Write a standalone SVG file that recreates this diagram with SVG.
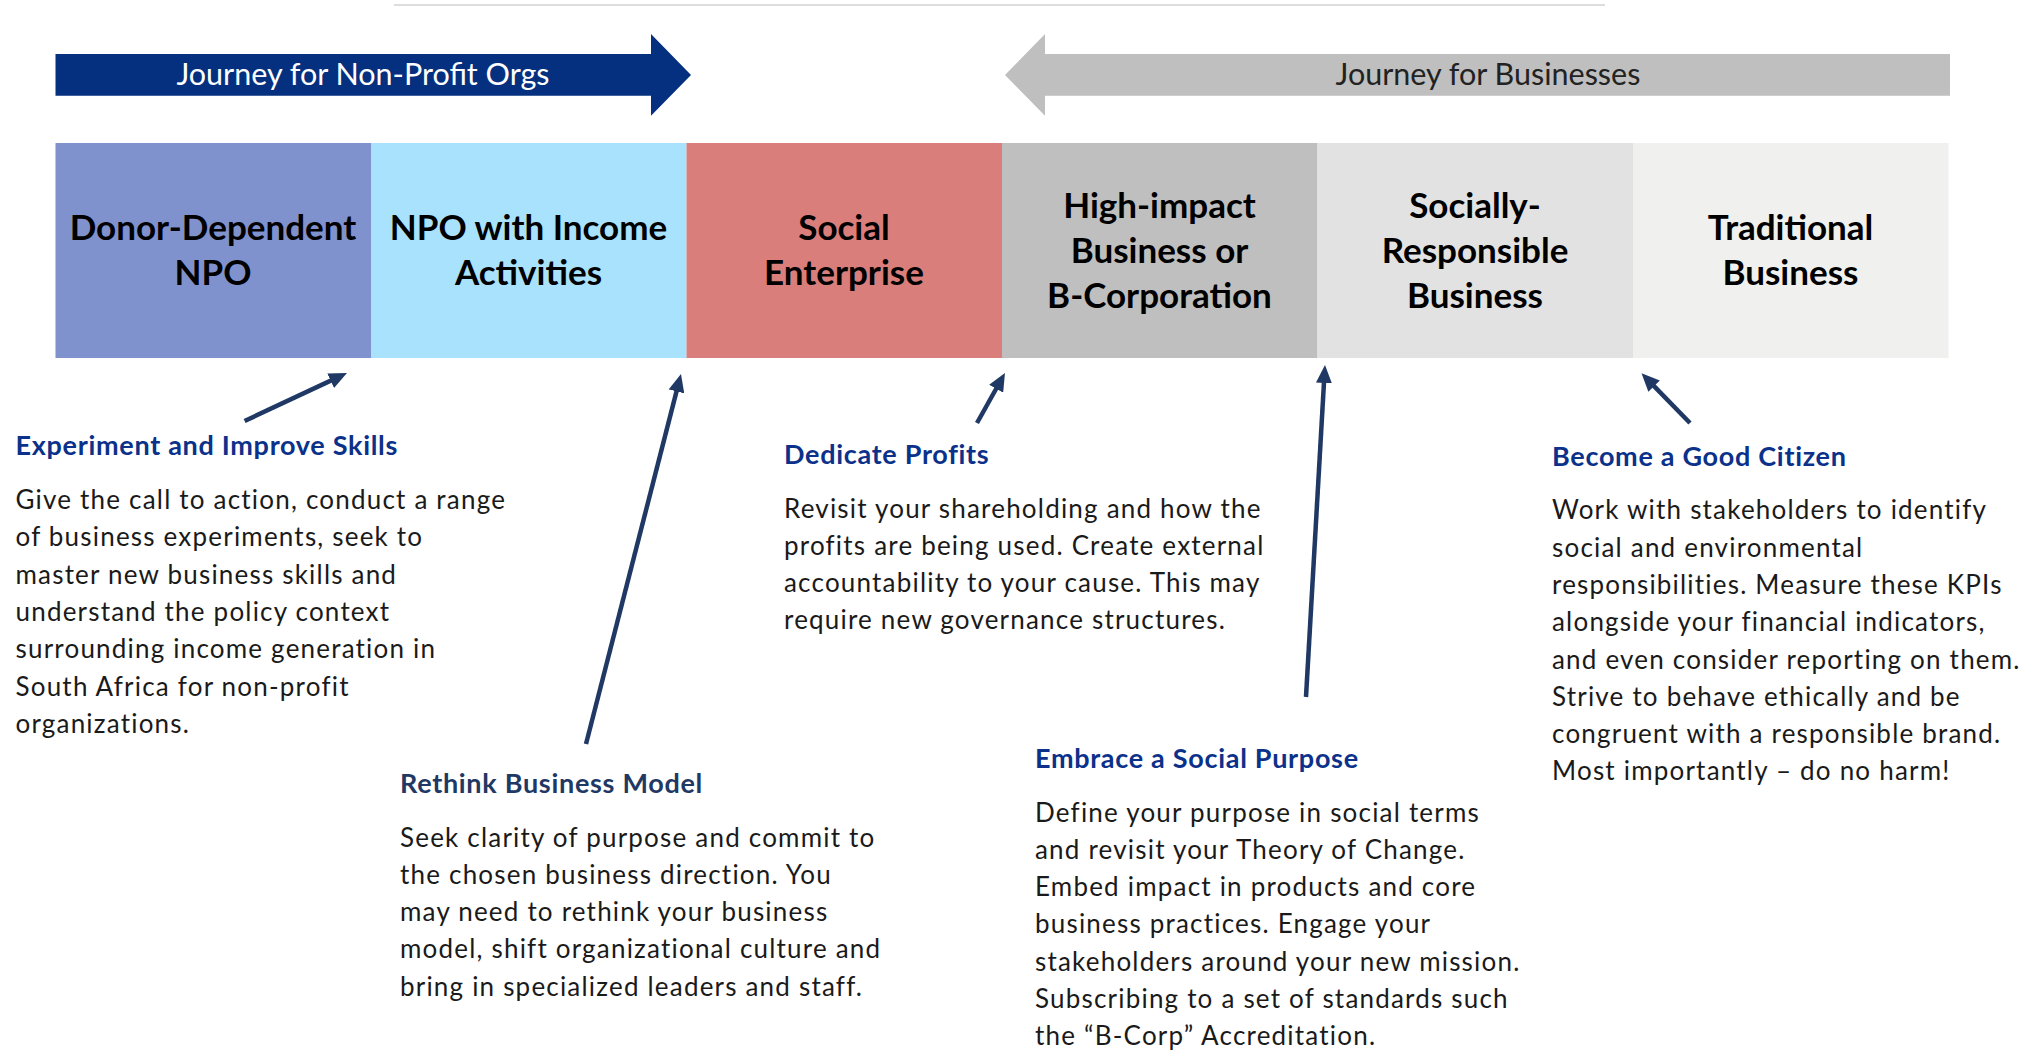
<svg xmlns="http://www.w3.org/2000/svg" width="2026" height="1052" viewBox="0 0 2026 1052">
<style>
.lbl{font-family:Lato,"Open Sans","Liberation Sans",sans-serif;font-weight:bold;font-size:35px;fill:#000;text-anchor:middle}
.jr{font-family:Lato,"Open Sans","Liberation Sans",sans-serif;font-size:30.5px;text-anchor:middle}
.hd{font-family:Lato,"Open Sans","Liberation Sans",sans-serif;font-weight:bold;font-size:27px;letter-spacing:0.7px;fill:#0B318A}
.bd{font-family:Lato,"Open Sans","Liberation Sans",sans-serif;font-size:26px;letter-spacing:1.2px;fill:#1a1a1a}
.conn{stroke:#1F3864;stroke-width:4.5;fill:none;marker-end:url(#ah)}
</style>
<defs>
<marker id="ah" markerUnits="userSpaceOnUse" markerWidth="18" markerHeight="16" refX="6" refY="8" orient="auto">
<path d="M0,0 L18,8 L0,16 z" fill="#1F3864"/>
</marker>
</defs>
<rect width="2026" height="1052" fill="#fff"/>
<line x1="394" y1="5" x2="1605" y2="5" stroke="#DDDDDD" stroke-width="2"/>

<g id="journey-npo">
<path d="M55.5,54 L651,54 L651,34 L691,75 L651,115.7 L651,95.7 L55.5,95.7 z" fill="#05307F"/>
<text class="jr" x="363" y="85" fill="#fff">Journey for Non-Profit Orgs</text>
</g>
<g id="journey-biz">
<path d="M1950,54 L1045,54 L1045,34 L1005,75 L1045,115.7 L1045,95.7 L1950,95.7 z" fill="#BFBFBF"/>
<text class="jr" x="1488" y="85" fill="#222">Journey for Businesses</text>
</g>

<g id="donor-dependent-npo">
<rect x="55.5" y="143" width="315.5" height="215" fill="#8092CE"/>
<text class="lbl" x="213" y="240">Donor-Dependent</text>
<text class="lbl" x="213" y="285">NPO</text>
</g>
<g id="npo-income">
<rect x="371" y="143" width="315.5" height="215" fill="#A9E2FC"/>
<text class="lbl" x="528.5" y="240">NPO with Income</text>
<text class="lbl" x="528.5" y="285">Activities</text>
</g>
<g id="social-enterprise">
<rect x="686.5" y="143" width="315.5" height="215" fill="#DA7E7B"/>
<text class="lbl" x="844" y="240">Social</text>
<text class="lbl" x="844" y="285">Enterprise</text>
</g>
<g id="high-impact">
<rect x="1002" y="143" width="315.5" height="215" fill="#BFBFBF"/>
<text class="lbl" x="1159.5" y="218">High-impact</text>
<text class="lbl" x="1159.5" y="263">Business or</text>
<text class="lbl" x="1159.5" y="308">B-Corporation</text>
</g>
<g id="socially-responsible">
<rect x="1317.5" y="143" width="315.5" height="215" fill="#E2E2E2"/>
<text class="lbl" x="1475" y="218">Socially-</text>
<text class="lbl" x="1475" y="263">Responsible</text>
<text class="lbl" x="1475" y="308">Business</text>
</g>
<g id="traditional-business">
<rect x="1633" y="143" width="315.5" height="215" fill="#F0F0EF"/>
<text class="lbl" x="1790.5" y="240">Traditional</text>
<text class="lbl" x="1790.5" y="285">Business</text>
</g>

<g id="connectors">
<line class="conn" x1="244.6" y1="421" x2="336.1" y2="378.1"/>
<line class="conn" x1="586" y1="744" x2="678" y2="385.6"/>
<line class="conn" x1="977" y1="423" x2="999.1" y2="383.5"/>
<line class="conn" x1="1306" y1="697" x2="1324.3" y2="377"/>
<line class="conn" x1="1690" y1="423" x2="1649.9" y2="381.9"/>
</g>

<g id="experiment">
<text class="hd" x="15.5" y="455">Experiment and Improve Skills</text>
<text class="bd" x="15.5" y="509">Give the call to action, conduct a range</text>
<text class="bd" x="15.5" y="546.3">of business experiments, seek to</text>
<text class="bd" x="15.5" y="583.6">master new business skills and</text>
<text class="bd" x="15.5" y="620.9">understand the policy context</text>
<text class="bd" x="15.5" y="658.2">surrounding income generation in</text>
<text class="bd" x="15.5" y="695.5">South Africa for non-profit</text>
<text class="bd" x="15.5" y="732.8">organizations.</text>
</g>
<g id="rethink">
<text class="hd" x="400" y="793" style="fill:#1F3864">Rethink Business Model</text>
<text class="bd" x="400" y="846.5">Seek clarity of purpose and commit to</text>
<text class="bd" x="400" y="883.8">the chosen business direction. You</text>
<text class="bd" x="400" y="921.1">may need to rethink your business</text>
<text class="bd" x="400" y="958.4">model, shift organizational culture and</text>
<text class="bd" x="400" y="995.7">bring in specialized leaders and staff.</text>
</g>
<g id="dedicate">
<text class="hd" x="784" y="464">Dedicate Profits</text>
<text class="bd" x="784" y="517.5">Revisit your shareholding and how the</text>
<text class="bd" x="784" y="554.8">profits are being used. Create external</text>
<text class="bd" x="784" y="592.1">accountability to your cause. This may</text>
<text class="bd" x="784" y="629.4">require new governance structures.</text>
</g>
<g id="embrace">
<text class="hd" x="1035" y="768">Embrace a Social Purpose</text>
<text class="bd" x="1035" y="821.5">Define your purpose in social terms</text>
<text class="bd" x="1035" y="858.8">and revisit your Theory of Change.</text>
<text class="bd" x="1035" y="896.1">Embed impact in products and core</text>
<text class="bd" x="1035" y="933.4">business practices. Engage your</text>
<text class="bd" x="1035" y="970.7">stakeholders around your new mission.</text>
<text class="bd" x="1035" y="1008">Subscribing to a set of standards such</text>
<text class="bd" x="1035" y="1045.3">the “B-Corp” Accreditation.</text>
</g>
<g id="citizen">
<text class="hd" x="1552" y="466">Become a Good Citizen</text>
<text class="bd" x="1552" y="519.3">Work with stakeholders to identify</text>
<text class="bd" x="1552" y="556.6">social and environmental</text>
<text class="bd" x="1552" y="593.9">responsibilities. Measure these KPIs</text>
<text class="bd" x="1552" y="631.2">alongside your financial indicators,</text>
<text class="bd" x="1552" y="668.5">and even consider reporting on them.</text>
<text class="bd" x="1552" y="705.8">Strive to behave ethically and be</text>
<text class="bd" x="1552" y="743.1">congruent with a responsible brand.</text>
<text class="bd" x="1552" y="780.4">Most importantly – do no harm!</text>
</g>
</svg>
